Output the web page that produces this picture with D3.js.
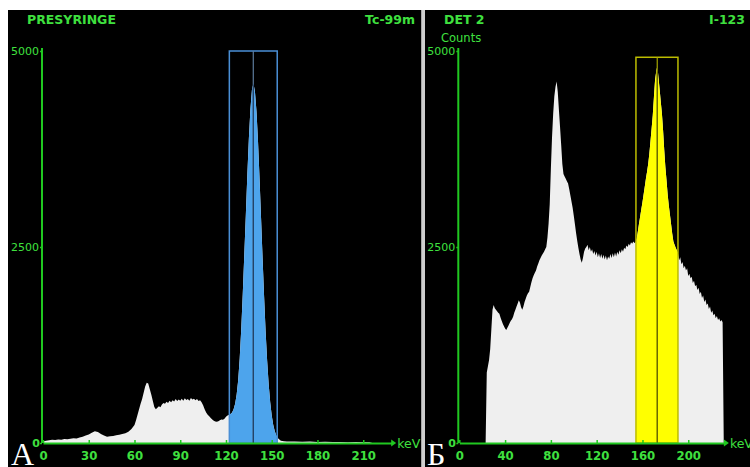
<!DOCTYPE html>
<html>
<head>
<meta charset="utf-8">
<script src="https://cdn.jsdelivr.net/npm/d3@7"></script>
<style>
  html, body { margin: 0; padding: 0; background: #ffffff; }
  svg { display: block; }
</style>
</head>
<body>
<svg id="chart" width="750" height="467"></svg>
<script>
// Tc-99m spectrum (presyringe), energy in keV and counts per channel
const tcEnergy = [0,2,4,6,8,10,12,14,16,18,20,22,24,26,28,30,32,34,36,38,40,42,44,46,48,50,52,54,56,58,
  60,61,62,63,64,65,66,67,68,69,70,71,72,73,74,75,76,77,78,79,80,81,82,83,84,85,86,87,88,89,90,91,92,93,94,95,96,97,98,99,100,101,102,103,104,
  105,106,107,108,109,110,111,112,113,114,115,116,117,118,119,120,121,
  122,123,124,125,126,127,128,129,130,131,132,133,134,135,136,137,138,139,140,141,142,143,144,145,146,147,
  148,149,150,151,152,153,154,155,156,157,158,160,165,170,175,180,185,190,195,200,205,210,214,216];
const tcCounts = [20,30,35,40,38,45,42,50,48,55,60,58,70,80,95,110,130,150,140,115,95,80,85,90,100,105,115,125,145,180,
  230,290,360,430,500,560,640,720,770,760,690,620,540,460,430,450,470,455,490,510,500,525,510,540,520,545,530,560,535,555,540,565,540,570,550,560,540,575,555,565,545,560,535,545,520,
  480,430,390,360,340,320,300,285,275,270,278,290,300,295,310,335,350,
  360,370,390,430,500,620,800,1080,1450,1900,2400,2900,3420,3880,4250,4500,4590,4480,4230,3850,3380,2870,2360,1870,1420,1050,
  750,520,350,230,150,95,65,45,30,25,22,18,20,15,18,14,16,12,14,10,12,10,8,0];

// I-123 spectrum (detector 2)
const iEnergy = [23,24,25,26,27,28,29,30,31,32,33,34,35,36,37,38,39,40,41,42,43,44,45,46,47,48,49,50,
  51,52,53,54,55,56,57,58,59,60,61,62,63,64,65,66,67,68,69,70,72,74,75,76,77,78,79,80,81,82,83,84,85,86,
  87,88,89,90,91,92,93,94,95,96,97,98,99,100,101,102,103,104,105,106,107,108,109,110,111,112,113,114,115,116,
  117,118,119,120,121,122,123,124,125,126,127,128,129,130,131,132,133,134,135,136,137,138,139,140,141,142,143,144,145,146,147,148,149,150,151,152,153,
  154,155,156,157,158,159,160,161,162,163,164,165,166,167,168,169,170,171,172,173,174,175,176,177,178,179,180,
  181,182,183,184,185,186,187,188,189,190,191,192,193,194,195,196,197,198,199,200,201,202,203,204,205,206,207,208,209,210,
  211,212,213,214,215,216,217,218,219,220,221,222,223,224,225,226,227,228,229,230,231];
const iCounts = [0,900,980,1060,1200,1450,1700,1760,1720,1700,1680,1660,1650,1600,1560,1520,1490,1460,1440,1470,1500,1530,1560,1580,1610,1660,1700,1740,
  1780,1820,1790,1730,1700,1740,1800,1840,1880,1910,1930,1990,2050,2100,2140,2170,2200,2250,2290,2330,2390,2440,2470,2500,2620,2800,3050,3500,3900,4200,4420,4540,4610,4480,
  4250,4030,3800,3560,3430,3400,3370,3340,3310,3240,3160,3080,3000,2900,2790,2680,2580,2490,2410,2340,2300,2360,2440,2480,2500,2530,2460,2500,2440,2470,
  2410,2450,2390,2440,2370,2420,2360,2410,2350,2400,2340,2390,2330,2380,2350,2410,2360,2420,2370,2430,2380,2440,2400,2460,2420,2470,2440,2490,2470,2520,2500,2540,2520,2560,2540,2570,2550,
  2560,2610,2700,2800,2890,2980,3070,3170,3270,3370,3460,3560,3690,3850,4010,4180,4410,4630,4740,4810,4660,4510,4350,4200,3990,3740,3520,
  3350,3170,3030,2910,2790,2670,2570,2530,2490,2460,2420,2330,2370,2280,2310,2230,2260,2200,2230,2130,2160,2100,2120,2040,2070,2000,2020,1950,1980,1900,
  1930,1850,1880,1800,1830,1760,1780,1710,1740,1660,1690,1630,1650,1590,1620,1570,1590,1550,1570,1540,0];

// Axis ticks
const tcTicks = [0, 30, 60, 90, 120, 150, 180, 210];
const iTicks = [0, 40, 80, 120, 160, 200];
const countTicks = [0, 2500, 5000];

// Energy windows: [low, high] keV, centre keV, top of the window frame in counts
const tcWindow = [122.2, 153.6];
const tcCentre = 137.9;
const tcWindowTop = 5000;
const iWindow = [154.3, 191.0];
const iCentre = 172.9;
const iWindowTop = 4920;

const GREEN_TEXT = "#3fe03f";
const GREEN_AXIS = "#20c820";

const svg = d3.select("#chart");

// black screens and the divider between them
svg.append("rect").attr("x", 0).attr("y", 0).attr("width", 750).attr("height", 467).attr("fill", "#ffffff");
svg.append("rect").attr("x", 8).attr("y", 10).attr("width", 413.5).attr("height", 457).attr("fill", "#000000");
svg.append("rect").attr("x", 421.5).attr("y", 10).attr("width", 3.5).attr("height", 457).attr("fill", "#cfcfcf");
svg.append("rect").attr("x", 425).attr("y", 10).attr("width", 325).attr("height", 457).attr("fill", "#000000");

const panels = [
  {
    id: "tc", energy: tcEnergy, counts: tcCounts, ticks: tcTicks,
    xDomain: [0, 229], xRange: [43, 392.2],
    win: tcWindow, centre: tcCentre, winTop: tcWindowTop,
    winFill: "#4da4ec", winStroke: "#4a8fd6", lineTop: "#5d7c9c", lineIn: "#1c3b60",
    title: "PRESYRINGE", titleX: 27, iso: "Tc-99m", isoX: 415,
    countsLabel: null, letter: "А", letterX: 11,
    zeroX: 36
  },
  {
    id: "i", energy: iEnergy, counts: iCounts, ticks: iTicks,
    xDomain: [0, 232], xRange: [459.3, 724.9],
    win: iWindow, centre: iCentre, winTop: iWindowTop,
    winFill: "#ffff00", winStroke: "#bcbc00", lineTop: "#a6a600", lineIn: "#5c5c00",
    title: "DET 2", titleX: 444, iso: "I-123", isoX: 745,
    countsLabel: "Counts", letter: "Б", letterX: 427,
    zeroX: 452
  }
];

const y = d3.scaleLinear().domain([0, 5000]).range([443, 51]);

panels.forEach(p => {
  const x = d3.scaleLinear().domain(p.xDomain).range(p.xRange);
  const g = svg.append("g").attr("class", "panel-" + p.id);
  const pts = p.energy.map((e, i) => ({ e: e, c: p.counts[i] }));

  const area = d3.area()
    .x(d => x(d.e))
    .y0(y(0))
    .y1(d => y(d.c))
    .curve(d3.curveLinear);

  // spectrum outside the window
  g.append("path").datum(pts).attr("d", area).attr("fill", "#efefef");

  // spectrum inside the window
  const defs = svg.append("defs");
  defs.append("clipPath").attr("id", "win-" + p.id)
    .append("rect")
    .attr("x", x(p.win[0])).attr("y", 0)
    .attr("width", x(p.win[1]) - x(p.win[0])).attr("height", 467);
  defs.append("clipPath").attr("id", "spec-" + p.id)
    .append("path").datum(pts).attr("d", area);

  g.append("path").datum(pts).attr("d", area)
    .attr("fill", p.winFill)
    .attr("clip-path", "url(#win-" + p.id + ")");

  // window frame
  g.append("rect")
    .attr("x", x(p.win[0])).attr("y", y(p.winTop))
    .attr("width", x(p.win[1]) - x(p.win[0]))
    .attr("height", y(0) - y(p.winTop))
    .attr("fill", "none").attr("stroke", p.winStroke).attr("stroke-width", 1.5);

  // centre line: lighter over the background, dark over the spectrum
  g.append("line")
    .attr("x1", x(p.centre)).attr("x2", x(p.centre))
    .attr("y1", y(p.winTop)).attr("y2", y(0))
    .attr("stroke", p.lineTop).attr("stroke-width", 1.2);
  g.append("line")
    .attr("x1", x(p.centre)).attr("x2", x(p.centre))
    .attr("y1", y(p.winTop)).attr("y2", y(0))
    .attr("stroke", p.lineIn).attr("stroke-width", 1.2)
    .attr("clip-path", "url(#spec-" + p.id + ")");

  // x axis
  const xAxis = d3.axisBottom(x).tickValues(p.ticks).tickSizeInner(-3).tickSizeOuter(0).tickFormat(d3.format("d"));
  const gx = g.append("g").attr("transform", `translate(0,${y(0)})`).call(xAxis);
  gx.select(".domain").attr("stroke", GREEN_AXIS).attr("stroke-width", 2);
  gx.selectAll(".tick line").attr("stroke", GREEN_AXIS).attr("stroke-width", 1.5);
  gx.selectAll(".tick text")
    .attr("y", 17).attr("dy", null)
    .attr("fill", GREEN_TEXT)
    .style("font-family", "'Liberation Sans Narrow', 'DejaVu Sans Condensed', sans-serif")
    .style("font-weight", "bold").style("font-size", "13px");

  // arrow head and unit
  const xe = p.xRange[1];
  g.append("path")
    .attr("d", `M${xe - 1},${y(0) - 3.5}L${xe + 4},${y(0)}L${xe - 1},${y(0) + 3.5}Z`)
    .attr("fill", GREEN_AXIS);
  g.append("text").attr("x", xe + 5).attr("y", y(0) + 4.5)
    .attr("fill", GREEN_TEXT)
    .style("font-family", "'DejaVu Sans', sans-serif").style("font-size", "12.5px")
    .text("keV");

  // y axis
  const yAxis = d3.axisLeft(y).tickValues(countTicks).tickSizeInner(2).tickSizeOuter(0).tickPadding(1)
    .tickFormat(d => d === 0 ? "" : d3.format("d")(d));
  const gy = g.append("g").attr("transform", `translate(${p.xRange[0] - 1},0)`).call(yAxis);
  gy.select(".domain").attr("stroke", GREEN_AXIS).attr("stroke-width", 2)
    .attr("d", `M0,${y(0)}V${y(5000) - 3}`);
  gy.selectAll(".tick line").attr("stroke", GREEN_AXIS).attr("stroke-width", 1.5);
  gy.selectAll(".tick text")
    .attr("fill", GREEN_TEXT)
    .style("font-family", "'DejaVu Sans', sans-serif").style("font-size", "11px");
  g.append("text").attr("x", p.zeroX).attr("y", y(0) + 4)
    .attr("text-anchor", "middle").attr("fill", GREEN_TEXT)
    .style("font-family", "'DejaVu Sans', sans-serif").style("font-size", "11px").style("font-weight", "bold")
    .text("0");

  // headers
  g.append("text").attr("x", p.titleX).attr("y", 24)
    .attr("fill", GREEN_TEXT)
    .style("font-family", "'DejaVu Sans', sans-serif").style("font-weight", "bold").style("font-size", "12.5px")
    .text(p.title);
  g.append("text").attr("x", p.isoX).attr("y", 24).attr("text-anchor", "end")
    .attr("fill", GREEN_TEXT)
    .style("font-family", "'DejaVu Sans', sans-serif").style("font-weight", "bold").style("font-size", "12.5px")
    .text(p.iso);
  if (p.countsLabel) {
    g.append("text").attr("x", 441).attr("y", 42)
      .attr("fill", GREEN_TEXT)
      .style("font-family", "'DejaVu Sans', sans-serif").style("font-size", "11.5px")
      .text(p.countsLabel);
  }

  // panel letter
  g.append("text").attr("x", p.letterX).attr("y", 465)
    .attr("fill", "#ffffff")
    .style("font-family", "'Liberation Serif', 'DejaVu Serif', serif").style("font-size", "32px")
    .text(p.letter);
});
</script>
</body>
</html>
